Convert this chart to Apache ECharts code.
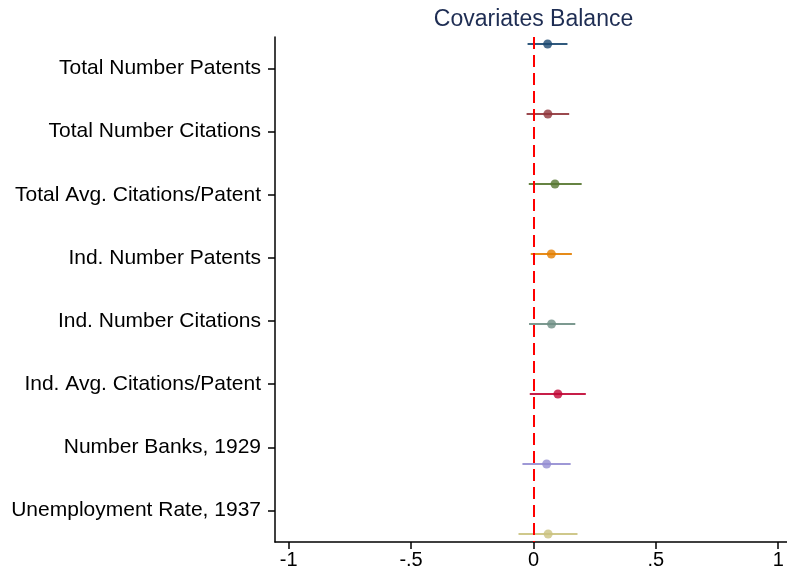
<!DOCTYPE html>
<html>
<head>
<meta charset="utf-8">
<script src="https://cdn.jsdelivr.net/npm/echarts@6/dist/echarts.min.js"></script>
<style>
  html, body { margin: 0; padding: 0; background: #fff; }
  #chart { width: 787px; height: 567px; }
</style>
</head>
<body>
<div id="chart"></div>
<script>
// Covariate names, top to bottom
const covariates = [
  'Total Number Patents',
  'Total Number Citations',
  'Total Avg. Citations/Patent',
  'Ind. Number Patents',
  'Ind. Number Citations',
  'Ind. Avg. Citations/Patent',
  'Number Banks, 1929',
  'Unemployment Rate, 1937'
];
// Point estimates and confidence interval bounds
const estimates = [0.058, 0.059, 0.088, 0.073, 0.074, 0.100, 0.054, 0.060];
const ciLower   = [-0.024, -0.028, -0.019, -0.011, -0.018, -0.015, -0.045, -0.061];
const ciUpper   = [0.139, 0.146, 0.197, 0.157, 0.171, 0.214, 0.152, 0.180];
const markerColors = ['#1a476f', '#90353b', '#55752f', '#e37e00', '#6e8e84', '#c10534', '#938dd2', '#cac27e'];
// x-axis tick values and their printed form
const xTickValues = [-1, -0.5, 0, 0.5, 1];
const xTickLabels = ['-1', '-.5', '0', '.5', '1'];

const FONT = 'Liberation Sans, Arial, sans-serif';

const pointData = estimates.map((v, i) => ({
  value: [v, i + 1],
  itemStyle: { color: markerColors[i] }
}));
const ciData = estimates.map((v, i) => [ciLower[i], ciUpper[i], i + 1]);

const chart = echarts.init(document.getElementById('chart'), null, { renderer: 'canvas' });
chart.setOption({
  animation: false,
  backgroundColor: '#ffffff',
  title: {
    text: 'Covariates Balance',
    left: 528.5,
    textAlign: 'center',
    top: 3,
    textStyle: { fontFamily: FONT, fontSize: 23, fontWeight: 'normal', color: '#1e2d53' }
  },
  grid: { left: 275, right: 0, top: 37, bottom: 25, outerBoundsMode: 'none', containLabel: false },
  xAxis: {
    type: 'value',
    min: -1.056,
    max: 1.036,
    splitLine: { show: false },
    axisLine: { show: true, onZero: false, lineStyle: { color: '#000', width: 1.5 } },
    axisTick: { show: true, length: 7, customValues: xTickValues, lineStyle: { color: '#000', width: 1.5 } },
    axisLabel: {
      customValues: xTickValues,
      margin: 8,
      fontFamily: FONT, fontSize: 20, color: '#000',
      formatter: v => xTickLabels[xTickValues.indexOf(v)] ?? ''
    }
  },
  yAxis: [
    {
      type: 'value',
      inverse: true,
      min: 0.9,
      max: 8.114,
      show: false,
      position: 'right'
    },
    {
      type: 'category',
      data: covariates,
      inverse: true,
      position: 'left',
      boundaryGap: true,
      axisLine: { show: true, lineStyle: { color: '#000', width: 1.5 } },
      axisTick: { show: true, alignWithLabel: true, length: 7, lineStyle: { color: '#000', width: 1.5 } },
      axisLabel: { margin: 14, fontFamily: FONT, fontSize: 21, color: '#000' },
      splitLine: { show: false }
    }
  ],
  series: [
    {
      type: 'custom',
      yAxisIndex: 0,
      data: ciData,
      renderItem: (params, api) => {
        const lo = api.coord([api.value(0), api.value(2)]);
        const hi = api.coord([api.value(1), api.value(2)]);
        return {
          type: 'line',
          shape: { x1: lo[0], y1: lo[1], x2: hi[0], y2: hi[1] },
          style: { stroke: markerColors[params.dataIndex], lineWidth: 2.2, opacity: 0.9 }
        };
      },
      encode: { x: [0, 1], y: 2 },
      z: 2,
      markLine: {
        silent: true,
        symbol: 'none',
        label: { show: false },
        lineStyle: { color: '#ff0000', width: 2, type: [12, 6] },
        data: [{ xAxis: 0 }]
      }
    },
    {
      type: 'scatter',
      yAxisIndex: 0,
      data: pointData,
      symbol: 'circle',
      symbolSize: 9,
      z: 3
    }
  ]
});
</script>
</body>
</html>
